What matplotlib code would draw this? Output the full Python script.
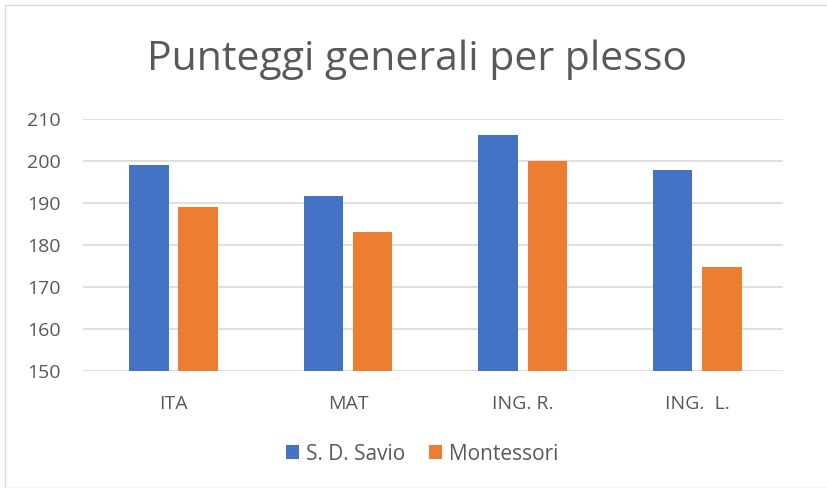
import numpy as np
import matplotlib.pyplot as plt
from matplotlib.patches import Rectangle

categories = ['ITA', 'MAT', 'ING. R.', 'ING.  L.']
savio = [199.0, 191.6, 206.2, 197.8]
montessori = [189.1, 183.2, 200.1, 174.7]
series_names = ['S. D. Savio', 'Montessori']

plt.rcParams['font.family'] = ['Open Sans', 'DejaVu Sans']
grey = '#595959'

fig = plt.figure(figsize=(8.28, 4.88), dpi=100)
ax = fig.add_axes([83 / 828, 1 - 371 / 488, 700 / 828, 252 / 488])

x = np.arange(len(categories))
w = 0.226
off = 0.141
ax.bar(x - off, savio, w, color='#4472C4', label=series_names[0], zorder=3)
ax.bar(x + off, montessori, w, color='#ED7D31', label=series_names[1], zorder=3)

ax.set_xlim(-0.518, 3.491)
ax.set_ylim(150, 210)
ax.set_yticks(np.arange(150, 211, 10))
ax.set_xticks(x)
ax.set_xticklabels(categories)
ax.grid(axis='y', color='#D9D9D9', linewidth=1.2, zorder=0)
for s in ax.spines.values():
    s.set_visible(False)
ax.tick_params(length=0, colors=grey, labelsize=14)
ax.tick_params(axis='x', pad=17)
ax.tick_params(axis='y', pad=16)

fig.text(0.5 + 3 / 828, 1 - 60 / 488, 'Punteggi generali per plesso', ha='center', va='center',
         fontsize=29.5, color=grey)

fig.legend(loc='center', bbox_to_anchor=(0.5 + 8 / 828, 1 - 454 / 488), ncol=2, frameon=False,
           fontsize=15, labelcolor=grey, handlelength=0.65, handleheight=0.65,
           handletextpad=0.3, columnspacing=1.15)

fig.patches.append(Rectangle((5 / 828, 0), 1, 1 - 5 / 488, transform=fig.transFigure,
                             fill=False, edgecolor='#D9D9D9', linewidth=1))

fig.savefig('out.png', dpi=100)
